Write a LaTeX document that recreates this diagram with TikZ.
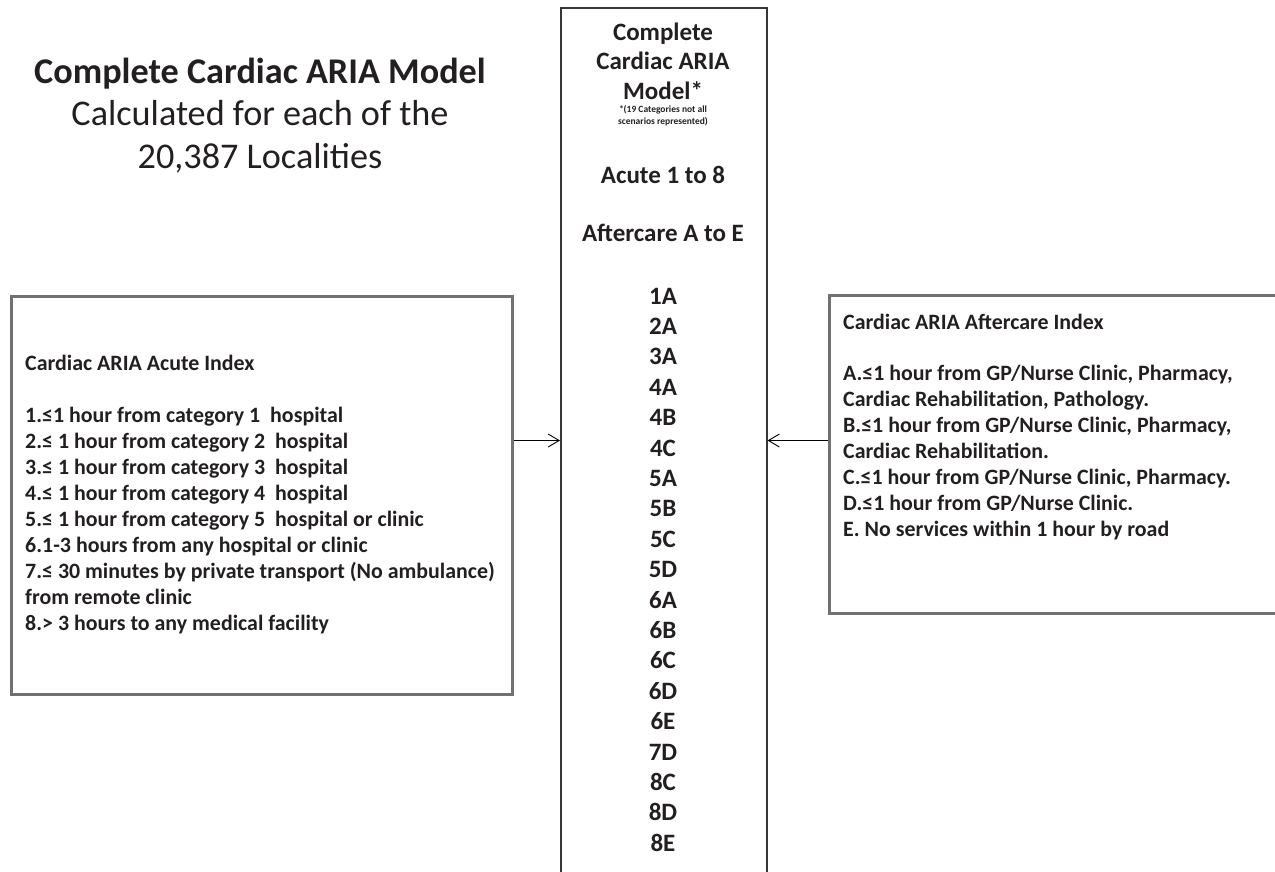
\documentclass[tikz,border=0pt]{standalone}
\usepackage{fontspec}
\setmainfont{Carlito}
\usepackage{xcolor}
\usetikzlibrary{arrows.meta}
\definecolor{ink}{HTML}{231F20}
\definecolor{frame}{HTML}{707173}
\tikzstyle{index} = [rectangle, draw=frame, line width=3pt, inner sep=0pt, anchor=north west]
\tikzstyle{model} = [rectangle, draw=ink!90, line width=1.5pt, inner sep=0pt, anchor=north west]
\tikzstyle{boxtext} = [inner sep=0pt, text=ink, anchor=base west, align=left, font=\bfseries\fontsize{21.9}{26}\selectfont]
\tikzstyle{head} = [inner sep=0pt, text=ink, anchor=base, align=center, font=\bfseries\fontsize{25}{29.5}\selectfont]
\tikzstyle{arrow} = [line width=0.9pt, -{Straight Barb[length=11pt,width=13pt]}]

\begin{document}
\begin{tikzpicture}[x=1pt, y=-1pt]
\useasboundingbox (0,0) rectangle (1275,871);
% frames
\node (model) [model, minimum width=206pt, minimum height=900pt] at (560,7) {};
\node (acute) [index, minimum width=501pt, minimum height=398pt] at (10,295) {};
\node (after) [index, minimum width=480pt, minimum height=318pt] at (828,294) {};

% title on the left (anchor base = last line)
\node (title) [inner sep=0pt, text=ink, anchor=base, align=center, font=\fontsize{36.2}{42.5}\selectfont] at (260,168)
  {\textbf{Complete Cardiac ARIA Model}\\Calculated for each of the\\20,387 Localities};

% middle column
\node (modelname) [head] at (663,99) {Complete\\Cardiac ARIA\\Model*};
\node (note) [head, font=\bfseries\fontsize{9.5}{11.7}\selectfont] at (663,124) {*(19 Categories not all\\scenarios represented)};
\node (acuterange) [head] at (663,183) {Acute 1 to 8};
\node (afterrange) [head] at (663,241) {Aftercare A to E};
\foreach \code [count=\i from 0] in {1A,2A,3A,4A,4B,4C,5A,5B,5C,5D,6A,6B,6C,6D,6E,7D,8C,8D,8E}
  \node (c\code) [head] at (663,304+30.4*\i) {\code};

% the two indexes
\node (acutetext) [boxtext] at (25,630) {Cardiac ARIA Acute Index\\[26pt]
  1.≤1 hour from category 1\ \ hospital\\
  2.≤ 1 hour from category 2\ \ hospital\\
  3.≤ 1 hour from category 3\ \ hospital\\
  4.≤ 1 hour from category 4\ \ hospital\\
  5.≤ 1 hour from category 5\ \ hospital or clinic\\
  6.1-3 hours from any hospital or clinic\\
  7.≤ 30 minutes by private transport (No ambulance)\\
  from remote clinic\\
  8.> 3 hours to any medical facility};
\node (aftertext) [boxtext] at (843,536) {Cardiac ARIA Aftercare Index\\[25pt]
  A.≤1 hour from GP/Nurse Clinic, Pharmacy,\\
  Cardiac Rehabilitation, Pathology.\\
  B.≤1 hour from GP/Nurse Clinic, Pharmacy,\\
  Cardiac Rehabilitation.\\
  C.≤1 hour from GP/Nurse Clinic, Pharmacy.\\
  D.≤1 hour from GP/Nurse Clinic.\\
  E. No services within 1 hour by road};

\draw [arrow] ([yshift=55pt]acute.east) -- ([yshift=55pt]acute.east -| model.west);
\draw [arrow] ([yshift=14pt]after.west) -- ([yshift=14pt]after.west -| model.east);
\end{tikzpicture}
\end{document}
